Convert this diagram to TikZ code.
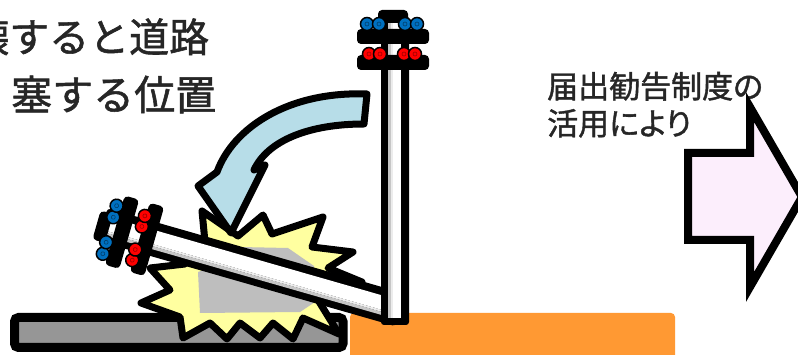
\documentclass[tikz,border=0pt]{standalone}
\usepackage{fontspec}
\newfontfamily\jpfont[FakeBold=1.3]{Noto Sans CJK JP}
\newfontfamily\jpprop[RawFeature=+palt,FakeBold=1.3]{Noto Sans CJK JP}
\definecolor{ink}{RGB}{38,38,38}
\definecolor{groundorange}{RGB}{255,153,51}
\definecolor{slabgray}{RGB}{150,150,150}
\definecolor{shadowgray}{RGB}{190,190,190}
\definecolor{flash}{RGB}{255,255,160}
\definecolor{fallblue}{RGB}{183,221,232}
\definecolor{goright}{RGB}{252,238,252}
\definecolor{insblue}{RGB}{0,112,192}
\definecolor{insred}{RGB}{255,0,0}
% utility pole, base at the origin, pointing up; #1 = half width of the shaft
\newcommand\utilitypole[1]{%
  \fill[black,rounded corners=3pt] (-#1,-306) rectangle (#1,3);
  \pgfmathsetmacro\stripL{-#1+7}\pgfmathsetmacro\stripR{#1-8}%
  \fill[gray!45] (\stripL,-300) rectangle (\stripL+3,-4);
  \fill[gray!15] (\stripL+3,-300) rectangle (\stripL+5,-4);
  \fill[white] (\stripL+5,-300) rectangle (\stripR,-4);
  \fill[black,rounded corners=4pt] (-17,-312) rectangle (13,-299);
  \fill[black,rounded corners=4pt] (-38,-293) rectangle (34,-278);
  \fill[black,rounded corners=4pt] (-38,-267) rectangle (34,-252);
  \foreach \ix in {-28,-16,10,22}{
    \draw[bluecap] (\ix,-298) circle (6.5);
    \draw[insblue!55!black,line width=0.6pt] (\ix,-298) circle (2);
  }
  \foreach \ix in {-26,-15,9,20}{
    \draw[redcap] (\ix,-268) circle (6.5);
    \draw[insred!60!black,line width=0.6pt] (\ix,-268) circle (2);
  }%
}
\begin{document}
\begin{tikzpicture}[x=1pt,y=-1pt,
  outline/.style={draw=black,line width=7pt,line join=round},
  bluecap/.style={fill=insblue,draw=black,line width=1.5pt},
  redcap/.style={fill=insred,draw=black,line width=1.5pt},
  jptext/.style={anchor=base west,inner sep=0pt,text=ink},
  standingpole/.pic={\utilitypole{14}},
  fallenpole/.pic={\utilitypole{17}}]
\useasboundingbox (0,0) rectangle (798,355);
\clip (0,0) rectangle (798,355);
\fill[white] (0,0) rectangle (798,355);

% ground: road surface and orange private land
\fill[groundorange,rounded corners=4pt] (350,313) rectangle (675,365);
\draw[line width=9pt,fill=slabgray,rounded corners=4pt] (14.5,317.5) rectangle (343,347.5);

% impact flash
\path[outline,fill=flash] (202,211) -- (238,236) -- (263,215) -- (272,234) -- (323,217)
  -- (312,247) -- (353,252) -- (328,268) -- (362,282) -- (318,300) -- (339,334)
  -- (303,318) -- (293,339) -- (273,323) -- (260,338) -- (240,323) -- (227,339)
  -- (210,323) -- (183,338) -- (180,317) -- (141,303) -- (170,290) -- (150,268)
  -- (185,264) -- (176,240) -- (205,242) -- cycle;
\fill[shadowgray] (240,247) -- (288,248) -- (314,266) -- (318,300) -- (300,312)
  -- (200,313) -- (198,272) -- (215,266) -- cycle;

% fallen pole and standing pole
\pic (fallen) [rotate=74] at (397,309) {fallenpole};
\pic (standing) at (395,322) {standingpole};

% curved arrow showing the fall
\path[outline,fill=fallblue] (367,94) .. controls (288,91) and (233,128) .. (217,172)
  -- (198,186) -- (231,233) -- (265,165) -- (254,170)
  .. controls (268,140) and (310,124) .. (364,124) -- cycle;

% captions
\node[jptext,font=\jpfont\fontsize{40}{48}\selectfont] (capA) at (-31,52) {壊すると道路};
\node[jptext,font=\jpfont\fontsize{41}{48}\selectfont] (capB) at (11,110) {塞する位置};
\node[jptext,font=\jpprop\fontsize{31}{36}\selectfont] (capC) at (547,98) {届出勧告制度の};
\node[jptext,font=\jpprop\fontsize{31}{36}\selectfont] (capD) at (547,135) {活用により};

% block arrow to the next stage
\path[draw=black,line width=8pt,line join=miter,fill=goright]
  (688,153) -- (750,153) -- (750,107) -- (802,197) -- (750,287) -- (750,240)
  -- (688,240) -- cycle;
\end{tikzpicture}
\end{document}
